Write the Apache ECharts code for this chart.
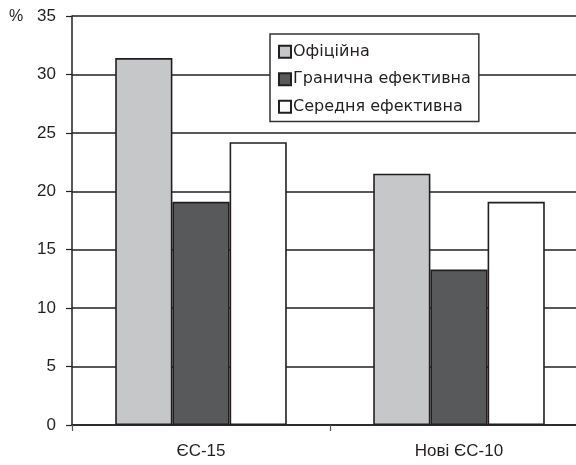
<!DOCTYPE html>
<html>
<head>
<meta charset="utf-8">
<script src="https://cdn.jsdelivr.net/npm/echarts@6/dist/echarts.min.js"></script>
<style>
  html, body { margin: 0; padding: 0; background: #fff; }
  #chart { width: 576px; height: 465px; }
</style>
</head>
<body>
<div id="chart"></div>
<script>
// Categories and series values (percent)
var categories = ['ЄС-15', 'Нові ЄС-10'];
var seriesNames = ['Офіційна', 'Гранична ефективна', 'Середня ефективна'];
var official = [31.4, 21.5];
var marginal = [19.1, 13.3];
var average = [24.2, 19.1];
var yTicks = { min: 0, max: 35, step: 5 };

var INK = '#231f20';
var FONT = '"Liberation Sans", Arial, Helvetica, sans-serif';
var LEGEND_FONT = '"DejaVu Sans", "Liberation Sans", sans-serif';

function barSeries(name, values, fill) {
  return {
    name: name,
    type: 'bar',
    data: values,
    barGap: '0%',
    barCategoryGap: '33.5%',
    itemStyle: { color: fill, borderColor: INK, borderWidth: 1.6 },
    emphasis: { disabled: true },
    z: 3
  };
}

var chart = echarts.init(document.getElementById('chart'), null, { renderer: 'canvas' });
chart.setOption({
  animation: false,
  backgroundColor: '#ffffff',
  // plot area continues past the right edge of the canvas
  grid: { left: 72, top: 16, width: 516, bottom: 40, containLabel: false, outerBoundsMode: 'none' },
  legend: {
    orient: 'vertical',
    left: 270,
    top: 34,
    data: seriesNames,
    icon: 'rect',
    itemWidth: 12,
    itemHeight: 12,
    itemGap: 10,
    padding: [9, 8, 6, 8],
    backgroundColor: '#ffffff',
    borderColor: '#333333',
    borderWidth: 1.5,
    borderRadius: 0,
    selectedMode: false,
    textStyle: { fontFamily: LEGEND_FONT, fontSize: 16, color: INK, lineHeight: 17.5, padding: [0, 0, 0, -3] },
    z: 10
  },
  graphic: [{
    type: 'text',
    left: 9,
    top: 9,
    style: { text: '%', fontSize: 16, fontFamily: FONT, fill: INK }
  }],
  xAxis: {
    type: 'category',
    data: categories,
    axisLine: { lineStyle: { color: INK, width: 1.5 } },
    axisTick: { show: true, length: 6, lineStyle: { color: '#555', width: 1.2 } },
    axisLabel: { fontFamily: FONT, fontSize: 17, color: INK, margin: 18 }
  },
  yAxis: {
    type: 'value',
    min: yTicks.min,
    max: yTicks.max,
    interval: yTicks.step,
    axisLine: { show: true, lineStyle: { color: INK, width: 1.5 } },
    axisTick: { show: true, length: 6, lineStyle: { color: INK, width: 1.2 } },
    axisLabel: { fontFamily: FONT, fontSize: 17, color: INK, margin: 16 },
    splitLine: { show: true, lineStyle: { color: INK, width: 1.5 } }
  },
  series: [
    barSeries(seriesNames[0], official, '#c6c7c9'),
    barSeries(seriesNames[1], marginal, '#58595b'),
    barSeries(seriesNames[2], average, '#ffffff')
  ]
});
</script>
</body>
</html>
